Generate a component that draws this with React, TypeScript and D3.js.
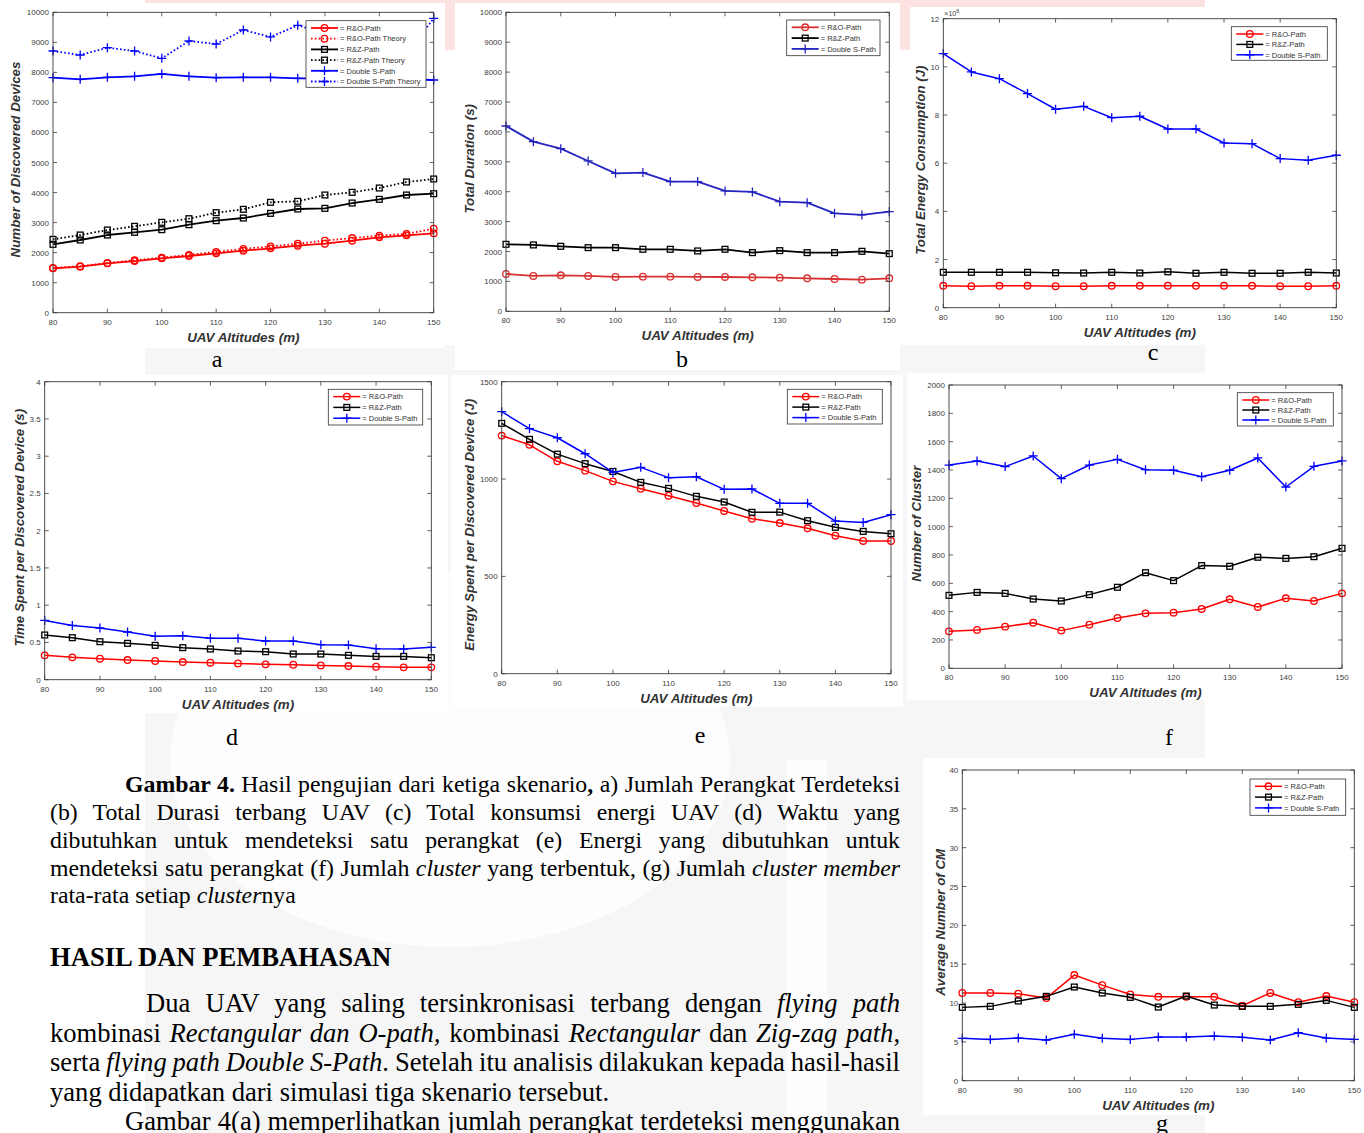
import { useLayoutEffect, useRef } from 'react';
import * as d3 from 'd3';

// shared x values (UAV altitude, m)
const altitudes = [80, 85, 90, 95, 100, 105, 110, 115, 120, 125, 130, 135, 140, 145, 150];
const xTicks = [80, 90, 100, 110, 120, 130, 140, 150];

// (a) number of discovered devices
const devRO = [1476, 1532, 1643, 1720, 1809, 1887, 1976, 2064, 2142, 2231, 2297, 2397, 2508, 2575, 2641];
const devROTheory = [1490, 1550, 1655, 1745, 1835, 1925, 2025, 2125, 2205, 2295, 2400, 2485, 2565, 2625, 2797];
const devRZ = [2275, 2420, 2586, 2675, 2764, 2930, 3063, 3152, 3307, 3452, 3474, 3651, 3774, 3918, 3962];
const devRZTheory = [2442, 2586, 2752, 2875, 3008, 3130, 3330, 3441, 3674, 3707, 3918, 4007, 4151, 4351, 4451];
const devDS = [7825, 7769, 7836, 7869, 7947, 7869, 7825, 7836, 7836, 7802, 7800, 7790, 7780, 7770, 7747];
const devDSTheory = [8712, 8579, 8823, 8712, 8468, 9045, 8945, 9411, 9179, 9567, 9300, 9500, 9200, 8600, 9800];

// (b) total duration (s)
const durRO = [1249, 1182, 1204, 1182, 1148, 1159, 1159, 1148, 1148, 1137, 1126, 1104, 1081, 1059, 1104];
const durRZ = [2241, 2219, 2174, 2129, 2129, 2074, 2074, 2018, 2074, 1962, 2029, 1962, 1962, 2007, 1929];
const durDS = [6198, 5674, 5440, 5028, 4615, 4638, 4337, 4337, 4025, 3991, 3668, 3634, 3278, 3222, 3333];

// (c) total energy consumption (x 10^6 J)
const engRO = [0.91, 0.89, 0.91, 0.91, 0.89, 0.89, 0.91, 0.91, 0.91, 0.91, 0.91, 0.91, 0.89, 0.89, 0.91];
const engRZ = [1.47, 1.47, 1.47, 1.47, 1.45, 1.44, 1.47, 1.44, 1.49, 1.43, 1.47, 1.43, 1.43, 1.47, 1.44];
const engDS = [10.55, 9.79, 9.51, 8.89, 8.24, 8.36, 7.89, 7.95, 7.42, 7.42, 6.84, 6.81, 6.19, 6.12, 6.33];

// (d) time spent per discovered device (s)
const timeRO = [0.327, 0.3, 0.282, 0.264, 0.251, 0.237, 0.228, 0.219, 0.206, 0.201, 0.192, 0.183, 0.174, 0.166, 0.166];
const timeRZ = [0.6, 0.564, 0.51, 0.488, 0.461, 0.43, 0.412, 0.385, 0.376, 0.345, 0.345, 0.327, 0.313, 0.313, 0.295];
const timeDS = [0.796, 0.729, 0.694, 0.64, 0.582, 0.591, 0.555, 0.555, 0.519, 0.519, 0.47, 0.465, 0.416, 0.412, 0.434];

// (e) energy spent per discovered device (J)
const epdRO = [1223, 1176, 1091, 1043, 988, 950, 914, 877, 836, 796, 774, 747, 709, 682, 682];
const epdRZ = [1286, 1204, 1128, 1079, 1039, 983, 952, 911, 882, 829, 830, 786, 752, 731, 719];
const epdDS = [1346, 1259, 1212, 1130, 1034, 1060, 1007, 1012, 947, 949, 875, 875, 784, 777, 817];

// (f) number of cluster
const clRO = [261, 271, 294, 322, 266, 308, 355, 388, 393, 419, 487, 433, 494, 475, 529];
const clRZ = [515, 536, 529, 489, 475, 520, 572, 675, 619, 725, 720, 784, 776, 788, 847];
const clDS = [1435, 1464, 1424, 1499, 1339, 1435, 1475, 1402, 1398, 1353, 1398, 1485, 1280, 1426, 1464];

// (g) average number of CM
const cmRO = [11.29, 11.29, 11.2, 10.64, 13.6, 12.3, 11.1, 10.8, 10.8, 10.8, 9.65, 11.3, 10.1, 10.9, 10.1];
const cmRZ = [9.44, 9.57, 10.26, 10.86, 12.06, 11.29, 10.73, 9.48, 10.9, 9.74, 9.57, 9.57, 9.83, 10.34, 9.44];
const cmDS = [5.45, 5.32, 5.49, 5.24, 5.97, 5.45, 5.32, 5.62, 5.62, 5.75, 5.58, 5.24, 6.18, 5.49, 5.32];

const RED = '#ff0000';
const BLACK = '#000000';
const BLUE = '#0000ff';
const SANS = '"Liberation Sans", Arial, sans-serif';
const SERIF = '"Liberation Serif", "Times New Roman", serif';

type Marker = 'circle' | 'square' | 'plus';
interface Series {
  label: string;
  values: number[];
  color: string;
  marker: Marker;
  dotted?: boolean;
}

const three = (ro: number[], rz: number[], ds: number[], red = RED, blue = BLUE): Series[] => [
  { label: 'R&O-Path', values: ro, color: red, marker: 'circle' },
  { label: 'R&Z-Path', values: rz, color: BLACK, marker: 'square' },
  { label: 'Double S-Path', values: ds, color: blue, marker: 'plus' },
];

function MarkerShape({ m, x, y, color, w }: { m: Marker; x: number; y: number; color: string; w: number }) {
  if (m === 'circle') return <circle cx={x} cy={y} r={3.3} fill="none" stroke={color} strokeWidth={w} />;
  if (m === 'square') return <rect x={x - 2.9} y={y - 2.9} width={5.8} height={5.8} fill="none" stroke={color} strokeWidth={w} />;
  return <path d={`M${x - 4.5},${y}H${x + 4.5}M${x},${y - 4.5}V${y + 4.5}`} stroke={color} strokeWidth={w} />;
}

interface ChartProps {
  plot: [number, number, number, number];
  yMax: number;
  yStep: number;
  series: Series[];
  legend: [number, number, number, number];
  rowGap?: number;
  ylabel: string;
  ylabelX: number;
  letter: [string, number, number];
  exponent?: boolean;
  lw?: number;
}

function Chart({ plot, yMax, yStep, series, legend, rowGap = 10.7, ylabel, ylabelX, letter, exponent, lw = 1.5 }: ChartProps) {
  const [l, t, r, b] = plot;
  const x = d3.scaleLinear().domain([80, 150]).range([l, r]);
  const y = d3.scaleLinear().domain([0, yMax]).range([b, t]);
  const yTicks = d3.range(0, yMax + yStep / 2, yStep);
  const line = d3.line<number>().x((_, i) => x(altitudes[i])).y(v => y(v));
  const tk = 4;
  const axis = '#3a3a3a';
  const [lx, ly, lwid, lh] = legend;

  return (
    <g>
      {series.map(s => (
        <g key={s.label}>
          <path d={line(s.values) ?? ''} fill="none" stroke={s.color} strokeWidth={lw}
            strokeDasharray={s.dotted ? '1.6 2.2' : undefined} strokeLinejoin="round" />
          {s.values.map((v, i) => (
            <MarkerShape key={i} m={s.marker} x={x(altitudes[i])} y={y(v)} color={s.color} w={1.3} />
          ))}
        </g>
      ))}
      <rect x={l} y={t} width={r - l} height={b - t} fill="none" stroke={axis} strokeWidth={0.9} />
      {xTicks.map(v => (
        <g key={v}>
          <line x1={x(v)} x2={x(v)} y1={b} y2={b - tk} stroke={axis} strokeWidth={0.8} />
          <line x1={x(v)} x2={x(v)} y1={t} y2={t + tk} stroke={axis} strokeWidth={0.8} />
          <text x={x(v)} y={b + 12} textAnchor="middle" fontSize={8} fill="#404040" fontFamily={SANS}>{v}</text>
        </g>
      ))}
      {yTicks.map(v => (
        <g key={v}>
          <line x1={l} x2={l + tk} y1={y(v)} y2={y(v)} stroke={axis} strokeWidth={0.8} />
          <line x1={r} x2={r - tk} y1={y(v)} y2={y(v)} stroke={axis} strokeWidth={0.8} />
          <text x={l - 4} y={y(v) + 3} textAnchor="end" fontSize={8} fill="#404040" fontFamily={SANS}>{String(v)}</text>
        </g>
      ))}
      {exponent && (
        <text x={l + 1} y={t - 3} fontSize={7} fill="#404040" fontFamily={SANS}>
          ×10<tspan dy={-3} fontSize={5.5}>6</tspan>
        </text>
      )}
      <text x={(l + r) / 2} y={b + 29} textAnchor="middle" fontSize={13.4} fontWeight="bold" fontStyle="italic"
        fill="#333" fontFamily={SANS}>UAV Altitudes (m)</text>
      <text transform={`translate(${ylabelX},${(t + b) / 2 - 3}) rotate(-90)`} textAnchor="middle" dy="0.35em"
        fontSize={13.3} fontWeight="bold" fontStyle="italic" fill="#333" fontFamily={SANS}>{ylabel}</text>
      <rect x={lx} y={ly} width={lwid} height={lh} fill="#fff" stroke="#333" strokeWidth={0.8} />
      {series.map((s, i) => {
        const ry = ly + 7.3 + i * rowGap;
        return (
          <g key={s.label}>
            <line x1={lx + 5} x2={lx + 32} y1={ry} y2={ry} stroke={s.color} strokeWidth={lw}
              strokeDasharray={s.dotted ? '1.6 2.2' : undefined} />
            <MarkerShape m={s.marker} x={lx + 18.5} y={ry} color={s.color} w={1.3} />
            <text x={lx + 34} y={ry + 2.7} fontSize={7.5} fill="#333" fontFamily={SANS}>= {s.label}</text>
          </g>
        );
      })}
      <text x={letter[1]} y={letter[2]} textAnchor="middle" fontSize={24} fontFamily={SERIF}>{letter[0]}</text>
    </g>
  );
}

const seriesA: Series[] = [
  { label: 'R&O-Path', values: devRO, color: RED, marker: 'circle' },
  { label: 'R&O-Path Theory', values: devROTheory, color: RED, marker: 'circle', dotted: true },
  { label: 'R&Z-Path', values: devRZ, color: BLACK, marker: 'square' },
  { label: 'R&Z-Path Theory', values: devRZTheory, color: BLACK, marker: 'square', dotted: true },
  { label: 'Double S-Path', values: devDS, color: BLUE, marker: 'plus' },
  { label: 'Double S-Path Theory', values: devDSTheory, color: BLUE, marker: 'plus', dotted: true },
];

// a paragraph line; when w is given it is justified by widening the word gaps
function Line({ x, y, w, size, children }: { x: number; y: number; w?: number; size: number; children: any }) {
  const ref = useRef<SVGTextElement>(null);
  useLayoutEffect(() => {
    const el = ref.current;
    if (!w || !el) return;
    el.style.wordSpacing = '0px';
    const natural = el.getComputedTextLength();
    const gaps = (el.textContent || '').trim().split(/\s+/).length - 1;
    if (gaps > 0) el.style.wordSpacing = `${(w - natural) / gaps}px`;
  }, [w]);
  return (
    <text ref={ref} x={x} y={y} fontSize={size} fontFamily={SERIF} fill="#000">{children}</text>
  );
}

export default function App() {
  const cap = 23.8;
  const body = 26.6;
  return (
    <svg width={1364} height={1133} style={{ position: 'absolute', left: 0, top: 0, background: '#fff' }}>
      {/* page background with faint watermark */}
      <rect x={0} y={0} width={1364} height={1133} fill="#fff" />
      <rect x={145} y={0} width={1060} height={50} fill="#fde2e2" />
      <rect x={145} y={345} width={1060} height={788} fill="#f6f6f6" />
      <ellipse cx={450} cy={760} rx={280} ry={187} fill="#fdfdfd" />
      <rect x={787} y={760} width={40} height={373} fill="#fdfdfd" />

      {/* chart image backgrounds */}
      <rect x={0} y={3} width={445} height={345} fill="#fff" />
      <rect x={455} y={3} width={445} height={367} fill="#fff" />
      <rect x={910} y={7} width={454} height={338} fill="#fff" />
      <rect x={0} y={375} width={448} height={338} fill="#fff" />
      <rect x={451} y={375} width={452} height={332} fill="#fff" />
      <rect x={907} y={373} width={457} height={327} fill="#fff" />
      <rect x={923} y={758} width={441} height={357} fill="#fff" />

      <Chart plot={[53, 12.3, 433.7, 312.7]} yMax={10000} yStep={1000} series={seriesA}
        legend={[306, 20.7, 120, 66.6]} ylabel="Number of Discovered Devices" ylabelX={15}
        letter={['a', 217, 367]} lw={1.8} />
      <Chart plot={[506, 12.3, 889.3, 311.3]} yMax={10000} yStep={1000}
        series={three(durRO, durRZ, durDS, '#d83030', '#2424c0')}
        legend={[786.7, 20, 93.3, 35.7]} rowGap={10.8} ylabel="Total Duration (s)" ylabelX={469}
        letter={['b', 682, 367]} lw={1.8} />
      <Chart plot={[943.3, 18.7, 1336.3, 307.7]} yMax={12} yStep={2} series={three(engRO, engRZ, engDS)}
        legend={[1231.3, 26.7, 96, 33.6]} rowGap={10.4} ylabel="Total Energy Consumption (J)" ylabelX={920}
        letter={['c', 1153, 360]} exponent />
      <Chart plot={[44.7, 381.7, 431.3, 679.7]} yMax={4} yStep={0.5} series={three(timeRO, timeRZ, timeDS)}
        legend={[328.3, 389.3, 94.4, 35.7]} rowGap={10.8} ylabel="Time Spent per Discovered Device (s)" ylabelX={19}
        letter={['d', 232, 745]} />
      <Chart plot={[501.7, 381.7, 891, 673.7]} yMax={1500} yStep={500} series={three(epdRO, epdRZ, epdDS)}
        legend={[787.3, 389.3, 95, 34.7]} rowGap={10.5} ylabel="Energy Spent per Discovered Device (J)" ylabelX={469}
        letter={['e', 700, 743]} />
      <Chart plot={[949, 385, 1342, 668.3]} yMax={2000} yStep={200} series={three(clRO, clRZ, clDS)}
        legend={[1237.3, 392.7, 96, 33.3]} rowGap={10} ylabel="Number of Cluster" ylabelX={916}
        letter={['f', 1169, 745]} />
      <Chart plot={[962.3, 770, 1354.3, 1080.7]} yMax={40} yStep={5} series={three(cmRO, cmRZ, cmDS)}
        legend={[1250, 779, 95.7, 36.3]} rowGap={10.8} ylabel="Average Number of CM" ylabelX={940}
        letter={['g', 1162, 1131]} />

      {/* caption */}
      <Line x={125} y={792} w={775} size={cap}>
        <tspan fontWeight="bold">Gambar 4.</tspan> Hasil pengujian dari ketiga skenario<tspan fontWeight="bold">,</tspan> a) Jumlah Perangkat Terdeteksi
      </Line>
      <Line x={50} y={820} w={850} size={cap}>(b) Total Durasi terbang UAV (c) Total konsumsi energi UAV (d) Waktu yang</Line>
      <Line x={50} y={848} w={850} size={cap}>dibutuhkan untuk mendeteksi satu perangkat (e) Energi yang dibutuhkan untuk</Line>
      <Line x={50} y={876} w={850} size={cap}>
        mendeteksi satu perangkat (f) Jumlah <tspan fontStyle="italic">cluster</tspan> yang terbentuk, (g) Jumlah <tspan fontStyle="italic">cluster member</tspan>
      </Line>
      <Line x={50} y={903} size={cap}>rata-rata setiap <tspan fontStyle="italic">cluster</tspan>nya</Line>

      <text x={50} y={966} fontSize={body} fontWeight="bold" fontFamily={SERIF}>HASIL DAN PEMBAHASAN</text>

      {/* body */}
      <Line x={146} y={1012} w={754} size={body}>
        Dua UAV yang saling tersinkronisasi terbang dengan <tspan fontStyle="italic">flying path</tspan>
      </Line>
      <Line x={50} y={1041.5} w={850} size={body}>
        kombinasi <tspan fontStyle="italic">Rectangular dan O-path,</tspan> kombinasi <tspan fontStyle="italic">Rectangular</tspan> dan <tspan fontStyle="italic">Zig-zag path</tspan>,
      </Line>
      <Line x={50} y={1071} w={850} size={body}>
        serta <tspan fontStyle="italic">flying path Double S-Path</tspan>. Setelah itu analisis dilakukan kepada hasil-hasil
      </Line>
      <Line x={50} y={1100.5} size={body}>yang didapatkan dari simulasi tiga skenario tersebut.</Line>
      <Line x={125} y={1130} w={775} size={body}>Gambar 4(a) memperlihatkan jumlah perangkat terdeteksi menggunakan</Line>
    </svg>
  );
}
